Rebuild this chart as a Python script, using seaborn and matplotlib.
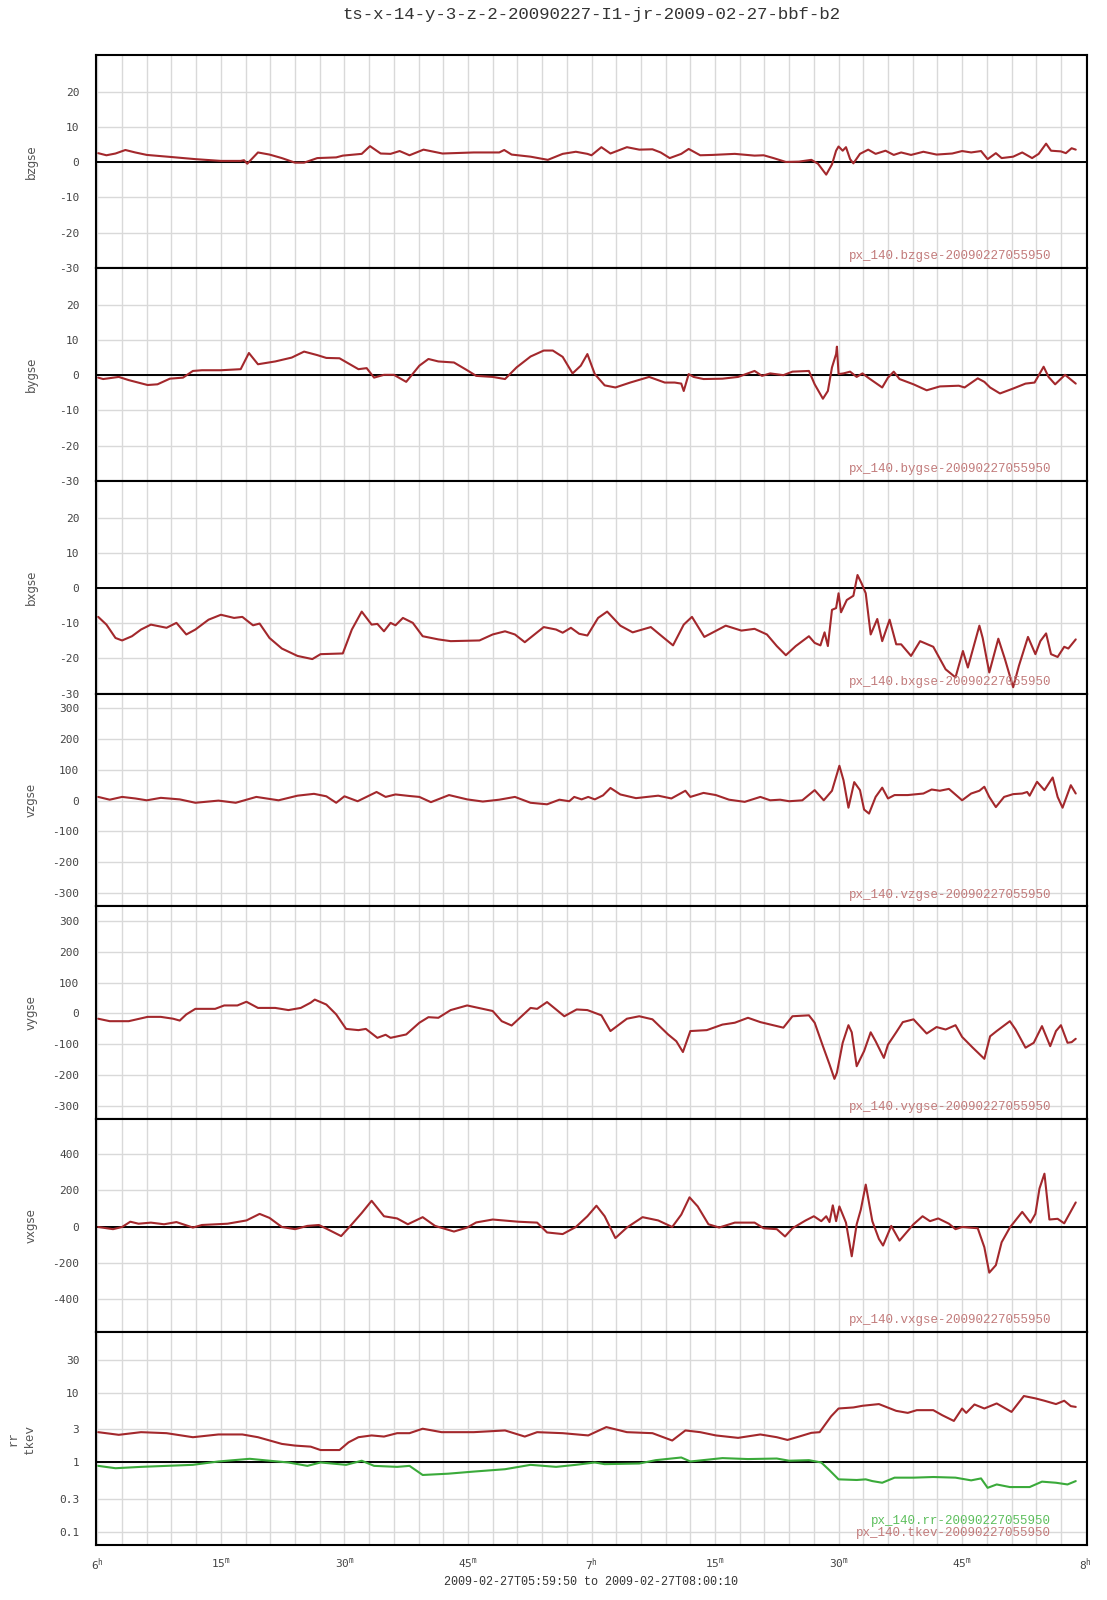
import numpy as np
import pandas as pd
import matplotlib
matplotlib.use("Agg")
import matplotlib.pyplot as plt
from matplotlib.ticker import MultipleLocator, FixedLocator, FuncFormatter, NullLocator
import seaborn as sns

# ---------------- data (time in minutes after 06:00 UT) ----------------
t_bz = [0.1,1.1,2.2,3.4,4.6,6.0,9.0,11.9,15.0,17.4,17.8,18.2,19.5,20.9,22.4,24.0,25.1,26.7,29.0,29.8,
        32.1,33.1,34.4,35.6,36.7,37.9,39.6,41.9,45.7,48.8,49.4,50.3,52.6,54.7,56.5,58.1,59.5,60.0,61.2,62.3,
        64.3,65.8,67.4,68.4,69.5,70.9,71.8,73.2,74.7,77.4,79.8,80.9,82.1,83.6,85.2,86.7,87.5,88.5,89.2,89.7,
        90.0,90.5,90.9,91.4,91.8,92.6,93.6,94.5,95.7,96.7,97.6,98.8,100.3,101.9,103.8,105.0,106.1,107.3,108.1,109.1,
        109.8,111.2,112.3,113.5,114.3,115.2,115.8,117.0,117.6,118.3,118.8]
bzgse = [2.6,2.0,2.5,3.5,2.8,2.1,1.5,0.9,0.4,0.4,0.6,-0.4,2.8,2.2,1.2,-0.1,-0.1,1.2,1.4,1.9,
         2.4,4.6,2.5,2.4,3.2,2.0,3.6,2.5,2.8,2.8,3.5,2.2,1.6,0.7,2.4,3.0,2.4,2.0,4.3,2.5,
         4.3,3.6,3.7,2.8,1.2,2.4,3.8,2.0,2.1,2.4,1.9,2.0,1.2,0.1,0.2,0.7,-0.4,-3.5,-0.6,3.3,
         4.5,3.3,4.3,0.9,-0.3,2.4,3.6,2.4,3.3,2.1,2.8,2.1,3.0,2.2,2.5,3.2,2.8,3.2,0.9,2.6,
         1.2,1.6,2.8,1.2,2.4,5.3,3.3,3.1,2.6,4.0,3.6]

t_by = [0.1,0.7,2.6,3.8,6.1,7.3,8.8,10.4,11.6,12.7,15.0,17.4,18.4,19.5,21.6,23.6,25.1,26.7,27.8,29.4,
        31.7,32.7,33.6,34.8,36.0,37.5,39.1,40.2,41.4,43.3,44.9,46.0,48.0,49.5,50.9,52.6,54.2,55.3,56.5,57.7,
        58.7,59.5,60.4,61.6,62.9,64.7,67.0,68.9,70.1,70.9,71.2,71.8,72.4,73.6,75.9,77.8,79.8,80.7,81.7,83.3,
        84.4,86.4,87.1,88.1,88.7,89.2,89.7,89.8,90.0,90.6,91.4,92.2,92.9,93.7,95.3,96.0,96.7,97.4,99.1,100.7,
        102.3,104.6,105.3,106.9,107.7,108.4,109.6,111.2,112.7,113.8,114.9,115.5,116.3,117.5,118.8]
bygse = [-0.7,-1.1,-0.5,-1.4,-2.8,-2.6,-1.0,-0.7,1.2,1.4,1.4,1.7,6.3,3.1,3.9,5.0,6.7,5.7,4.9,4.8,
         1.7,2.0,-0.7,0.1,0.1,-1.9,2.7,4.6,3.9,3.6,1.4,-0.2,-0.5,-1.1,2.2,5.3,7.0,7.0,5.2,0.5,
         2.7,6.0,0.3,-2.9,-3.5,-2.1,-0.5,-2.1,-2.1,-2.4,-4.5,0.3,-0.5,-1.1,-1.0,-0.5,1.2,-0.2,0.5,0.0,
         1.0,1.2,-2.6,-6.7,-4.5,2.2,6.0,8.1,0.3,0.5,1.0,-0.5,0.5,-0.9,-3.5,-0.7,1.0,-1.1,-2.6,-4.3,
         -3.2,-3.0,-3.5,-0.9,-1.9,-3.5,-5.2,-3.8,-2.4,-2.1,2.4,-0.5,-2.6,0.1,-2.4]

t_bx = [0.1,1.1,2.2,3.0,4.2,5.3,6.5,8.4,9.6,10.8,11.9,13.5,15.0,16.6,17.6,18.9,19.7,20.9,22.4,24.3,
        26.1,27.1,29.8,30.9,32.1,33.3,34.0,34.8,35.6,36.2,37.1,38.3,39.5,41.4,42.9,46.4,48.0,49.5,50.7,51.9,
        54.2,55.7,56.5,57.5,58.5,59.5,60.8,61.9,63.5,65.0,67.2,68.8,69.9,71.2,72.2,73.7,76.3,78.2,79.8,81.3,
        82.5,83.6,84.8,86.4,87.1,87.8,88.3,88.7,89.2,89.7,90.0,90.3,91.0,91.8,92.3,92.8,93.3,93.9,94.7,95.3,
        96.2,97.0,97.6,98.8,99.9,101.5,103.0,104.2,105.1,105.7,107.1,107.5,108.3,109.4,110.2,111.2,111.9,113.0,113.9,114.5,
        115.2,115.8,116.6,117.4,117.9,118.8]
bxgse = [-8.2,-10.4,-14.2,-14.9,-13.7,-11.8,-10.4,-11.3,-9.9,-13.2,-11.8,-9.0,-7.6,-8.5,-8.2,-10.6,-10.1,-14.2,-17.2,-19.3,
         -20.2,-18.8,-18.6,-11.8,-6.7,-10.4,-10.2,-12.3,-9.9,-10.6,-8.5,-9.9,-13.7,-14.6,-15.1,-14.9,-13.2,-12.3,-13.2,-15.4,
         -11.1,-11.8,-12.7,-11.3,-13.0,-13.5,-8.5,-6.7,-10.7,-12.6,-11.1,-14.2,-16.3,-10.4,-8.2,-13.9,-10.7,-12.1,-11.6,-13.2,
         -16.5,-19.1,-16.5,-13.7,-15.6,-16.3,-12.6,-16.5,-6.2,-5.7,-1.5,-6.9,-3.4,-2.2,3.7,1.3,-1.5,-13.2,-8.8,-15.1,
         -9.0,-16.0,-16.0,-19.3,-15.1,-16.7,-23.1,-25.4,-17.9,-22.6,-10.7,-14.2,-24.0,-14.4,-20.2,-28.2,-22.1,-13.9,-18.8,-15.1,
         -12.9,-18.8,-19.6,-16.7,-17.2,-14.6]

t_vz = [0.1,1.5,3.0,4.6,6.0,7.7,10.0,11.9,14.7,16.8,19.3,22.0,24.3,26.3,27.8,29.0,30.0,31.6,33.9,35.0,
        36.2,37.9,39.1,40.5,42.7,44.9,46.8,48.8,50.7,52.6,54.6,56.1,57.3,57.9,58.8,59.6,60.4,61.4,62.3,63.5,
        65.4,68.1,69.7,71.4,72.0,73.6,75.1,76.7,78.6,80.5,81.7,82.9,84.0,85.6,87.1,88.2,89.2,90.1,90.6,91.2,
        91.9,92.6,93.1,93.7,94.5,95.3,96.0,96.8,98.4,100.3,101.3,102.3,103.4,105.0,106.1,107.1,107.7,108.3,109.1,110.1,
        111.2,112.3,112.9,113.2,114.1,115.0,116.0,116.6,117.2,118.2,118.8]
vzgse = [12,3,12,7,1,9,4,-7,0,-7,12,1,16,22,14,-7,14,-2,28,12,
         20,15,12,-5,18,4,-3,3,12,-7,-12,3,-2,12,4,12,4,17,41,20,
         8,16,7,32,12,25,18,3,-4,12,1,3,-2,1,34,1,32,113,66,-23,
         60,34,-29,-42,12,42,7,18,18,23,36,32,38,1,23,32,45,12,-21,12,
         21,23,28,16,61,34,75,12,-23,50,23]

t_vy = [0.1,1.5,3.8,6.1,7.7,9.2,10.0,10.8,11.9,14.3,15.4,17.0,18.1,19.5,21.6,23.2,24.7,25.9,26.4,27.8,
        29.0,30.2,31.7,32.6,34.0,35.0,35.6,37.5,39.1,40.2,41.4,42.9,44.9,46.8,48.0,49.1,50.3,52.6,53.4,54.6,
        55.7,56.7,58.2,59.5,61.2,62.3,63.1,64.3,65.8,67.4,69.3,70.3,71.1,72.0,74.0,75.9,77.4,79.0,80.5,83.3,
        84.4,86.4,87.1,88.1,88.9,89.5,89.8,90.5,91.2,91.6,92.2,93.1,93.9,94.5,95.5,96.0,97.0,97.8,99.1,100.7,
        101.9,103.0,104.2,105.0,106.3,107.7,108.4,109.2,110.8,111.5,112.7,113.7,114.7,115.7,116.4,117.0,117.8,118.3,118.8]
vygse = [-17,-25,-25,-11,-11,-17,-23,-3,15,15,26,26,38,18,18,11,18,35,45,29,
         -3,-50,-54,-50,-79,-69,-79,-68,-30,-12,-14,11,26,15,8,-25,-39,18,15,37,
         13,-9,13,11,-6,-57,-41,-17,-9,-19,-68,-90,-125,-57,-54,-36,-30,-14,-28,-46,
         -9,-6,-30,-106,-165,-212,-192,-95,-38,-61,-171,-122,-61,-90,-144,-101,-61,-28,-19,-65,
         -44,-52,-38,-76,-111,-147,-74,-57,-25,-52,-111,-95,-41,-106,-57,-38,-95,-93,-82]

t_vx = [0.1,1.9,3.0,4.0,5.0,6.5,8.1,9.6,11.6,12.7,15.8,18.1,19.7,20.9,22.4,24.0,25.5,26.9,28.2,29.6,
        30.9,32.1,33.3,34.8,36.4,37.7,39.5,41.0,43.3,44.9,46.0,48.0,51.1,53.4,54.6,56.5,58.1,59.5,60.6,61.6,
        62.9,64.3,66.2,68.1,69.8,70.9,71.9,72.9,74.2,75.5,77.4,79.8,80.9,82.5,83.5,84.4,86.0,87.0,87.9,88.5,
        88.9,89.3,89.7,90.1,90.9,91.6,92.2,92.7,93.3,94.1,94.9,95.4,96.4,97.4,99.1,100.2,101.1,102.1,103.4,104.2,
        105.0,106.9,107.7,108.3,109.1,109.8,110.8,112.3,113.3,113.9,114.4,115.0,115.6,116.6,117.4,118.8]
vxgse = [-2,-14,-2,27,16,22,13,25,-5,9,16,34,70,48,-2,-14,4,9,-20,-52,
         13,75,142,57,45,13,52,4,-27,-5,23,39,27,22,-32,-41,-2,57,115,57,
         -63,-5,52,34,-2,66,161,111,13,-5,22,22,-9,-14,-54,-9,34,57,30,57,
         25,117,30,111,22,-163,13,93,231,30,-68,-104,4,-77,13,57,30,45,16,-14,
         -2,-9,-113,-253,-212,-86,-5,81,22,70,210,291,39,43,18,133]

t_tk = [0.1,2.6,5.3,8.4,11.6,14.7,17.6,19.5,22.4,24.0,25.9,27.1,29.4,30.5,31.7,33.3,34.8,36.4,37.9,39.5,
        41.8,45.7,49.5,51.9,53.4,56.5,59.6,61.8,64.3,67.4,69.8,71.4,73.2,75.1,77.8,80.5,82.5,83.8,85.2,86.7,
        87.7,89.1,90.0,91.8,92.9,94.9,97.0,98.4,99.5,101.5,102.6,104.0,105.0,105.5,106.5,107.7,109.2,111.0,112.5,113.9,
        115.0,116.4,117.4,118.2,118.8]
tkev = [2.73,2.50,2.73,2.64,2.31,2.53,2.53,2.31,1.85,1.75,1.69,1.51,1.51,1.95,2.31,2.45,2.36,2.64,2.64,3.06,
        2.73,2.73,2.89,2.36,2.73,2.64,2.45,3.23,2.73,2.64,2.07,2.89,2.73,2.45,2.26,2.53,2.31,2.11,2.36,2.67,
        2.73,4.62,5.98,6.19,6.54,6.92,5.53,5.17,5.66,5.66,4.78,3.96,5.98,5.17,6.83,5.98,7.07,5.34,9.04,8.36,
        7.73,6.92,7.73,6.47,6.3]

t_rr = [0.1,2.2,5.3,8.4,11.6,14.7,18.5,20.9,23.2,25.5,27.1,30.2,32.1,33.6,36.4,37.9,39.5,42.6,45.7,49.5,
        52.6,55.7,58.1,60.4,61.6,65.8,67.8,70.9,72.0,75.9,79.0,82.5,84.0,86.4,87.9,88.9,90.0,92.2,93.3,94.1,
        95.3,96.8,99.1,101.5,104.2,106.1,107.3,108.1,109.2,110.8,113.2,114.7,116.4,117.8,118.8]
rr = [0.894,0.827,0.865,0.894,0.925,1.034,1.13,1.06,1.0,0.894,1.0,0.925,1.06,0.894,0.865,0.894,0.661,0.69,0.74,0.80,
      0.925,0.865,0.925,1.0,0.946,0.967,1.08,1.18,1.034,1.156,1.12,1.14,1.06,1.08,1.0,0.773,0.572,0.56,0.572,0.54,
      0.511,0.605,0.605,0.618,0.605,0.553,0.59,0.432,0.483,0.443,0.443,0.53,0.511,0.483,0.54]

panel_names = ["bzgse", "bygse", "bxgse", "vzgse", "vygse", "vxgse"]
b_ticks = [20, 10, 0, -10, -20, -30]
v_ticks = [300, 200, 100, 0, -100, -200, -300]
vx_ticks = [400, 200, 0, -200, -400]
log_ticks = [30, 10, 3, 1, 0.3, 0.1]
log_labels = ["30", "10", "3", "1", "0.3", "0.1"]
x_label_hours = {0: "6", 60: "7", 120: "8"}
irregular_ticks = [0, 9, 12, 24, 36, 39, 48, 51, 60, 63, 72, 75, 84, 87, 99, 111, 114]
title_text = "ts-x-14-y-3-z-2-20090227-I1-jr-2009-02-27-bbf-b2"
range_text = "2009-02-27T05:59:50 to 2009-02-27T08:00:10"
tag = "20090227055950"

# ---------------- style ----------------
sns.set_style("white")
plt.rcParams["font.family"] = ["DejaVu Sans Mono", "DejaVu Sans"]
plt.rcParams["mathtext.default"] = "regular"

RED = "#a3282c"
GREEN = "#3aaa3a"
TAG_RED = "#c27b7b"
TAG_GREEN = "#5cbf5c"
GRID = "#d9d9d9"
TXT = "#444444"

W, H = 1107, 1600
fig = plt.figure(figsize=(W / 100, H / 100), dpi=100)
gs = fig.add_gridspec(7, 1, left=96 / W, right=1087 / W, top=1 - 55 / H, bottom=1 - 1545 / H, hspace=0)
axes = [fig.add_subplot(gs[i, 0]) for i in range(7)]

series = [
    (t_bz, bzgse, (-30, 30.5), b_ticks, True),
    (t_by, bygse, (-30, 30.5), b_ticks, True),
    (t_bx, bxgse, (-30, 30.5), b_ticks, True),
    (t_vz, vzgse, (-343, 347), v_ticks, False),
    (t_vy, vygse, (-343, 347), v_ticks, False),
    (t_vx, vxgse, (-580, 590), vx_ticks, True),
]

XMIN, XMAX = -10 / 60, 120 + 10 / 60


def xfmt(v, pos):
    iv = int(round(v))
    if abs(v - iv) > 1e-6 or iv % 15 != 0:
        return ""
    if iv in x_label_hours:
        return "$" + x_label_hours[iv] + "^{h}$"
    return "$" + str(iv % 60) + "^{m}$"


def style_axis(ax):
    ax.set_xlim(XMIN, XMAX)
    ax.xaxis.set_major_locator(MultipleLocator(3))
    ax.xaxis.set_major_formatter(FuncFormatter(xfmt))
    ax.xaxis.set_minor_locator(FixedLocator(irregular_ticks))
    ax.grid(True, which="major", color=GRID, linewidth=1.0)
    ax.set_axisbelow(True)
    for sp in ax.spines.values():
        sp.set_color("black")
        sp.set_linewidth(1.5)
        sp.set_visible(True)
    ax.tick_params(axis="x", which="major", length=0, labelbottom=False, pad=8,
                   labelsize=8, labelcolor=TXT)
    ax.tick_params(axis="x", which="minor", length=0, bottom=False, top=False)
    ax.tick_params(axis="y", which="both", length=0, pad=12, labelsize=8, labelcolor=TXT)
    ax.set_xlabel("")
    ax.set_ylabel("")


def panel_center_y(ax):
    pos = ax.get_position()
    return (pos.y0 + pos.y1) / 2


for i, (t, v, ylim, ticks, zero) in enumerate(series):
    ax = axes[i]
    df = pd.DataFrame({"t": t, "v": v})
    sns.lineplot(data=df, x="t", y="v", ax=ax, color=RED, linewidth=1.5,
                 estimator=None, sort=False)
    style_axis(ax)
    ax.set_ylim(*ylim)
    ax.set_yticks(ticks)
    ax.set_yticklabels([str(k) for k in ticks])
    if zero:
        ax.axhline(0, color="black", linewidth=1.4, zorder=1.5)
    fig.text(31 / W, panel_center_y(ax), panel_names[i], rotation=90, ha="center", va="center",
             fontsize=8.5, color="#555555", family="DejaVu Sans")
    ax.text(0.964, 0.056, "px_140." + panel_names[i] + "-" + tag, transform=ax.transAxes,
            ha="right", va="center", fontsize=9, family="Liberation Mono", color=TAG_RED)

# log panel
ax = axes[6]
df_tk = pd.DataFrame({"t": t_tk, "v": tkev})
df_rr = pd.DataFrame({"t": t_rr, "v": rr})
sns.lineplot(data=df_tk, x="t", y="v", ax=ax, color=RED, linewidth=1.5, estimator=None, sort=False)
sns.lineplot(data=df_rr, x="t", y="v", ax=ax, color=GREEN, linewidth=1.5, estimator=None, sort=False)
ax.set_yscale("log")
style_axis(ax)
ax.set_ylim(0.065, 75)
ax.yaxis.set_major_locator(FixedLocator(log_ticks))
ax.yaxis.set_minor_locator(NullLocator())
ax.set_yticklabels(log_labels)
ax.axhline(1, color="black", linewidth=1.4, zorder=1.5)
cy = panel_center_y(ax)
fig.text(14 / W, cy, "rr", rotation=90, ha="center", va="center",
         fontsize=9, color="#555555", family="Liberation Mono")
fig.text(30 / W, cy, "tkev", rotation=90, ha="center", va="center",
         fontsize=9, color="#555555", family="Liberation Mono")
ax.text(0.964, 0.115, "px_140.rr-" + tag, transform=ax.transAxes,
        ha="right", va="center", fontsize=9, family="Liberation Mono", color=TAG_GREEN)
ax.text(0.964, 0.056, "px_140.tkev-" + tag, transform=ax.transAxes,
        ha="right", va="center", fontsize=9, family="Liberation Mono", color=TAG_RED)
ax.tick_params(axis="x", which="major", labelbottom=True)
ax.tick_params(axis="x", which="minor", bottom=True, direction="in", length=6, width=1.2, color="black")

axes[0].tick_params(axis="x", which="minor", top=True, direction="in", length=6, width=1.2, color="black")

fig.text(591.5 / W, 1 - 15 / H, title_text, ha="center", va="center",
         fontsize=12.5, family="Liberation Mono", color="#333333")
fig.text(591.5 / W, 1 - 1582 / H, range_text, ha="center", va="center",
         fontsize=8.5, family="Liberation Mono", color="#333333")

fig.savefig("out.png", dpi=100, facecolor="white")
